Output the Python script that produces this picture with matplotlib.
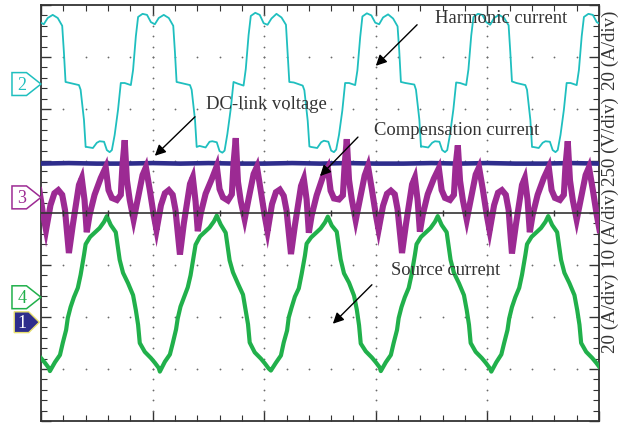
#oscilloscope capture: harmonic / compensation / source current and DC-link voltage

import numpy as np
import matplotlib.pyplot as plt
from matplotlib.patches import Polygon

# time in ms (20 ms/div), amplitude in screen divisions (8 div high)
harm_t = [-0.2, 0.5, 1.2, 2.1, 3.0, 3.8, 4.1, 4.4, 5.2, 6.8, 7.1, 7.7, 8.0,
          8.2, 9.3, 10.0, 10.5, 11.3, 11.8, 12.3, 12.7, 13.2, 13.8, 14.3, 15.0, 16.1, 16.5, 17.0, 17.4,
          18.2, 19.0, 19.7, 20.4, 21.1, 22.0, 22.9, 23.7, 24.0, 24.3, 25.1, 26.7, 27.0, 27.6, 27.9,
          28.4, 29.5, 30.2, 30.7, 31.5, 32.0, 32.5, 32.9, 33.4, 34.0, 34.5, 35.2, 36.3, 36.7, 37.2, 37.6,
          38.4, 39.2, 39.9, 40.6, 41.3, 42.2, 43.1, 43.9, 44.2, 44.5, 45.3, 46.9, 47.2, 47.8, 48.1,
          48.4, 49.5, 50.2, 50.7, 51.5, 52.0, 52.5, 52.9, 53.4, 54.0, 54.5, 55.2, 56.3, 56.7, 57.2, 57.6,
          58.4, 59.2, 59.9, 60.6, 61.3, 62.2, 63.1, 63.9, 64.2, 64.5, 65.3, 66.9, 67.2, 67.8, 68.1,
          68.3, 69.4, 70.1, 70.6, 71.4, 71.9, 72.4, 72.8, 73.3, 73.9, 74.4, 75.1, 76.2, 76.6, 77.1, 77.5,
          78.3, 79.1, 79.8, 80.5, 81.2, 82.1, 83.0, 83.8, 84.1, 84.4, 85.2, 86.8, 87.1, 87.7, 88.0,
          88.2, 89.2, 89.9, 90.4, 91.2, 91.7, 92.2, 92.6, 93.1, 93.7, 94.2, 94.9, 96.0, 96.4, 96.9, 97.3,
          98.1, 98.9, 99.6, 100.3]
harm_y = [3.67, 3.63, 3.75, 3.81, 3.75, 3.60, 3.10, 2.52, 2.50, 2.46, 2.37, 1.79, 1.27,
          1.27, 1.25, 1.35, 1.38, 1.37, 1.21, 1.17, 1.21, 1.50, 1.98, 2.50, 2.50, 2.46, 2.75, 3.40, 3.77,
          3.83, 3.81, 3.67, 3.63, 3.75, 3.81, 3.75, 3.60, 3.10, 2.52, 2.50, 2.46, 2.37, 1.79, 1.27,
          1.29, 1.26, 1.37, 1.38, 1.36, 1.19, 1.16, 1.20, 1.52, 2.00, 2.52, 2.49, 2.45, 2.77, 3.42, 3.79,
          3.85, 3.81, 3.65, 3.62, 3.74, 3.83, 3.76, 3.62, 3.08, 2.52, 2.51, 2.45, 2.36, 1.77, 1.28,
          1.27, 1.25, 1.36, 1.39, 1.37, 1.20, 1.17, 1.22, 1.50, 1.97, 2.50, 2.50, 2.46, 2.74, 3.38, 3.78,
          3.84, 3.80, 3.66, 3.63, 3.76, 3.82, 3.74, 3.59, 3.12, 2.52, 2.50, 2.47, 2.37, 1.80, 1.27,
          1.28, 1.26, 1.35, 1.38, 1.37, 1.21, 1.17, 1.21, 1.51, 1.99, 2.51, 2.50, 2.46, 2.76, 3.41, 3.77,
          3.83, 3.81, 3.67, 3.62, 3.75, 3.81, 3.75, 3.61, 3.10, 2.53, 2.50, 2.46, 2.37, 1.79, 1.27,
          1.27, 1.25, 1.35, 1.38, 1.37, 1.21, 1.17, 1.21, 1.50, 1.98, 2.50, 2.50, 2.46, 2.75, 3.40, 3.77,
          3.83, 3.81, 3.67, 3.63]

dc_t = [0, 5, 10, 15, 20, 25, 30, 35, 40, 45, 50, 55, 60, 65, 70, 75, 80, 85, 90, 95, 100]
dc_y = [0.95, 0.96, 0.95, 0.95, 0.96, 0.95, 0.96, 0.95, 0.95, 0.96, 0.95,
        0.96, 0.95, 0.95, 0.96, 0.95, 0.96, 0.95, 0.95, 0.96, 0.95]

comp_t = [-0.3, 0.4, 0.9, 1.7, 2.4, 3.1, 3.8, 4.3,
          5.0, 5.7, 6.8, 7.3, 7.8, 8.2, 8.7, 9.6, 10.7, 11.6, 12.1, 12.7, 13.6, 14.3, 14.6,
          15.0, 15.4, 15.9, 16.6, 17.3, 18.2, 18.8, 19.5, 20.2, 20.7, 21.5, 22.2, 22.9, 23.6, 24.1,
          24.9, 25.6, 26.7, 27.2, 27.7, 28.1, 28.6, 29.5, 30.6, 31.5, 32.0, 32.6, 33.5, 34.2, 34.5,
          34.9, 35.3, 35.8, 36.5, 37.2, 38.1, 38.7, 39.4, 40.1, 40.6, 41.4, 42.1, 42.8, 43.5, 44.0,
          44.8, 45.5, 46.6, 47.1, 47.6, 48.0, 48.5, 49.4, 50.5, 51.4, 51.9, 52.5, 53.4, 54.1, 54.4,
          54.8, 55.2, 55.7, 56.4, 57.1, 58.0, 58.6, 59.3, 60.0, 60.5, 61.3, 62.0, 62.7, 63.4, 63.9,
          64.7, 65.4, 66.5, 67.0, 67.5, 67.9, 68.4, 69.3, 70.4, 71.3, 71.8, 72.4, 73.3, 74.0, 74.3,
          74.7, 75.1, 75.6, 76.3, 77.0, 77.9, 78.5, 79.2, 79.9, 80.4, 81.2, 81.9, 82.6, 83.3, 83.8,
          84.4, 85.1, 86.2, 86.7, 87.2, 87.6, 88.1, 89.0, 90.1, 91.0, 91.5, 92.1, 93.0, 93.7, 94.0,
          94.4, 94.8, 95.3, 96.0, 96.7, 97.6, 98.2, 98.9, 99.6, 100.1]
comp_y = [0.44, -0.04, -0.33, 0.15, 0.38, 0.44, 0.35, 0.06,
          -0.77, -0.23, 0.54, 0.67, 0.25, -0.37, -0.04, 0.35, 0.67, 0.88, 0.44, 0.29, 0.25, 0.35, 0.92,
          1.40, 0.63, 0.25, -0.13, 0.25, 0.73, 0.88, 0.44, -0.04, -0.33, 0.15, 0.38, 0.44, 0.35, 0.06,
          -0.80, -0.20, 0.56, 0.69, 0.22, -0.35, -0.02, 0.37, 0.65, 0.90, 0.46, 0.30, 0.24, 0.36, 0.95,
          1.44, 0.60, 0.23, -0.12, 0.27, 0.75, 0.89, 0.42, -0.06, -0.35, 0.17, 0.40, 0.45, 0.33, 0.05,
          -0.79, -0.24, 0.52, 0.66, 0.26, -0.38, -0.05, 0.34, 0.69, 0.87, 0.43, 0.28, 0.26, 0.34, 0.90,
          1.42, 0.64, 0.26, -0.14, 0.24, 0.72, 0.90, 0.45, -0.03, -0.32, 0.14, 0.37, 0.43, 0.36, 0.07,
          -0.77, -0.22, 0.55, 0.68, 0.24, -0.36, -0.04, 0.36, 0.66, 0.86, 0.44, 0.29, 0.25, 0.35, 0.91,
          1.30, 0.62, 0.25, -0.13, 0.25, 0.74, 0.88, 0.44, -0.05, -0.34, 0.15, 0.39, 0.44, 0.35, 0.06,
          -0.78, -0.23, 0.54, 0.67, 0.25, -0.37, -0.04, 0.35, 0.67, 0.88, 0.44, 0.29, 0.25, 0.35, 0.92,
          1.38, 0.63, 0.25, -0.13, 0.25, 0.73, 0.88, 0.44, -0.04, -0.33]

src_t = [0.0, 0.7, 1.4,
         1.6, 2.5, 3.4, 3.9, 4.5, 4.8, 5.3, 5.9, 6.6, 7.1, 7.7, 8.0, 8.8, 9.6, 10.5,
         11.3, 11.8, 12.5, 13.4, 14.1, 14.7, 15.6, 16.5, 17.0, 17.4, 17.7, 18.6, 19.7, 20.4, 21.1,
         21.3, 22.2, 23.1, 23.6, 24.2, 24.5, 25.0, 25.6, 26.3, 26.8, 27.4, 27.7, 28.5, 29.3, 30.2,
         31.0, 31.5, 32.2, 33.1, 33.8, 34.4, 35.3, 36.2, 36.7, 37.1, 37.4, 38.3, 39.4, 40.1, 40.8,
         41.2, 42.1, 43.0, 43.5, 44.1, 44.4, 44.9, 45.5, 46.2, 46.7, 47.3, 47.6, 48.4, 49.2, 50.1,
         50.9, 51.4, 52.1, 53.0, 53.7, 54.3, 55.2, 56.1, 56.6, 57.0, 57.3, 58.2, 59.3, 60.0, 60.7,
         60.9, 61.8, 62.7, 63.2, 63.8, 64.1, 64.6, 65.2, 65.9, 66.4, 67.0, 67.3, 68.1, 68.9, 69.8,
         70.6, 71.1, 71.8, 72.7, 73.4, 74.0, 74.9, 75.8, 76.3, 76.7, 77.0, 77.9, 79.0, 79.7, 80.4,
         80.7, 81.6, 82.5, 83.0, 83.6, 83.9, 84.4, 85.0, 85.7, 86.2, 86.8, 87.1, 87.9, 88.7, 89.6,
         90.4, 90.9, 91.6, 92.5, 93.2, 93.8, 94.7, 95.6, 96.1, 96.5, 96.8, 97.7, 98.8, 99.5, 100.2]
src_y = [-2.79, -2.88, -2.98,
         -3.04, -2.87, -2.73, -2.50, -2.25, -2.02, -1.81, -1.62, -1.44, -1.19, -0.81, -0.60, -0.46, -0.38, -0.29,
         -0.17, -0.06, -0.23, -0.37, -0.90, -1.15, -1.35, -1.58, -1.87, -2.15, -2.50, -2.67, -2.79, -2.88, -2.98,
         -3.05, -2.86, -2.72, -2.51, -2.24, -2.03, -1.80, -1.63, -1.43, -1.20, -0.80, -0.61, -0.45, -0.37, -0.28,
         -0.16, -0.05, -0.22, -0.38, -0.91, -1.14, -1.36, -1.57, -1.88, -2.14, -2.49, -2.68, -2.80, -2.89, -2.99,
         -3.03, -2.88, -2.74, -2.49, -2.26, -2.01, -1.82, -1.61, -1.45, -1.18, -0.82, -0.59, -0.47, -0.39, -0.30,
         -0.18, -0.07, -0.24, -0.36, -0.89, -1.16, -1.34, -1.59, -1.86, -2.16, -2.51, -2.66, -2.78, -2.87, -2.97,
         -3.04, -2.87, -2.73, -2.50, -2.25, -2.02, -1.81, -1.62, -1.44, -1.19, -0.81, -0.60, -0.46, -0.38, -0.29,
         -0.17, -0.06, -0.23, -0.37, -0.90, -1.15, -1.35, -1.58, -1.87, -2.15, -2.50, -2.67, -2.79, -2.88, -2.98,
         -3.05, -2.87, -2.72, -2.50, -2.25, -2.03, -1.81, -1.62, -1.44, -1.19, -0.81, -0.60, -0.46, -0.38, -0.29,
         -0.17, -0.06, -0.23, -0.37, -0.90, -1.15, -1.35, -1.58, -1.87, -2.15, -2.50, -2.67, -2.79, -2.88, -2.98]

# channel markers: label, level (div), colour
channels = [("2", 2.48, "#1fbfbf"), ("3", 0.30, "#9c2a93"), ("4", -1.62, "#21b04b"), ("1", -2.10, "#2e2d8c")]
scales = ["20 (A/div)", "10 (A/div)", "250 (V/div)", "20 (A/div)"]
scale_pos = [-1.92, -0.29, 1.37, 3.13]

serif = "Liberation Serif"
fig = plt.figure(figsize=(6.21, 4.23), dpi=100)
ax = fig.add_axes([41 / 621, 2 / 423, 558 / 621, 416 / 423])
ax.set_xlim(0, 100)
ax.set_ylim(-4, 4)

# dotted graticule
for gx in [20, 40, 60, 80]:
    dy = np.arange(-3.8, 4.0, 0.2)
    ax.plot(np.full_like(dy, gx), dy, ls="none", marker="o", ms=1.3, color="#6a6a6a", mew=0)
for gy in [-3, -2, -1, 1, 2, 3]:
    dx = np.arange(4, 100, 4)
    ax.plot(dx, np.full_like(dx, gy, dtype=float), ls="none", marker="o", ms=1.3, color="#6a6a6a", mew=0)
ax.axhline(0, color="#333333", lw=1.2, zorder=5)
ax.plot(np.arange(4, 100, 4), np.zeros(24), ls="none", marker="|", ms=5, color="#333333", zorder=5)

ax.plot(harm_t, harm_y, color="#1fbfbf", lw=1.3, zorder=3)
ax.plot(dc_t, dc_y, color="#2e2d8c", lw=3.3, zorder=3)
ax.plot(comp_t, comp_y, color="#9c2a93", lw=4.4, zorder=4, solid_joinstyle="miter")
ax.plot(src_t, src_y, color="#21b04b", lw=3.0, zorder=4)

ax.set_xticks(np.arange(0, 101, 20))
ax.set_xticks(np.arange(0, 101, 4), minor=True)
ax.set_yticks(np.arange(-4, 5, 1))
ax.set_yticks(np.arange(-4, 4.01, 0.2), minor=True)
ax.tick_params(which="both", direction="in", top=True, right=True, labelbottom=False,
               labelleft=False, color="#333333")
ax.tick_params(which="major", length=7, width=1)
ax.tick_params(which="minor", length=4, width=0.8)
for s in ax.spines.values():
    s.set_color("#333333")
    s.set_linewidth(1.3)

# channel markers on the left edge
for lab, lev, col in channels:
    if lab == "1":
        pts = [(-4.8, lev + 0.2), (-2.2, lev + 0.2), (-0.3, lev), (-2.2, lev - 0.2), (-4.8, lev - 0.2)]
        ax.add_patch(Polygon(pts, closed=True, fc=col, ec="#e8e070", lw=1, clip_on=False, zorder=6))
        tc = "white"
    else:
        pts = [(-5.2, lev + 0.22), (-2.6, lev + 0.22), (0, lev), (-2.6, lev - 0.22), (-5.2, lev - 0.22)]
        ax.add_patch(Polygon(pts, closed=True, fc="white", ec=col, lw=1.1, clip_on=False, zorder=6))
        tc = col
    ax.text(-3.4, lev - 0.02, lab, color=tc, fontsize=13, family=serif, ha="center", va="center",
            clip_on=False, zorder=7)

# volts/amps per division on the right
for s, p in zip(scales, scale_pos):
    ax.text(102.0, p, s, rotation=90, ha="center", va="center", fontsize=13.6, family=serif,
            color="#333333", clip_on=False)

# annotations
notes = [("Harmonic current", (82.4, 3.75), (67.4, 3.62), (60.0, 2.83)),
         ("DC-link voltage", (40.4, 2.08), (27.6, 1.85), (20.4, 1.10)),
         ("Compensation current", (74.5, 1.58), (56.8, 1.46), (50.0, 0.71)),
         ("Source current", (72.5, -1.10), (59.3, -1.38), (52.3, -2.13))]
for txt, tp, tail, head in notes:
    ax.text(tp[0], tp[1], txt, ha="center", va="center", fontsize=13.4, family=serif,
            color="#333333", zorder=8)
    ax.annotate("", xy=head, xytext=tail,
                arrowprops=dict(arrowstyle="-|>", color="black", lw=1, mutation_scale=16,
                                shrinkA=0, shrinkB=0), zorder=8)

fig.savefig("out.png", dpi=100)
